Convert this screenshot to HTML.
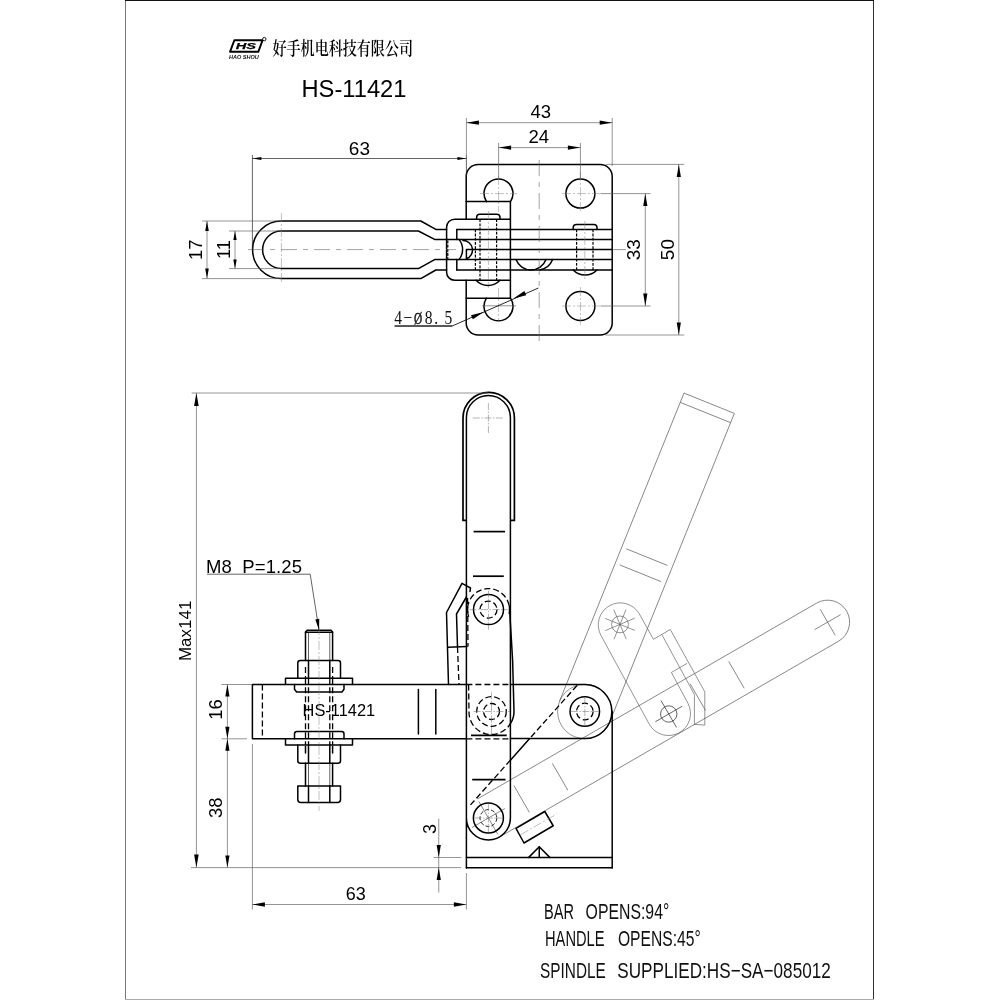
<!DOCTYPE html>
<html lang="zh"><head><meta charset="utf-8"><title>HS-11421</title>
<style>
html,body{margin:0;padding:0;background:#fff}
svg{display:block;will-change:transform}
.fr{fill:none;stroke:#222;stroke-width:1.1}
.k{fill:none;stroke:#000;stroke-width:1.5;stroke-linecap:round;stroke-linejoin:round}
.k2{fill:none;stroke:#000;stroke-width:1.7}
.kg{fill:none;stroke:#000;stroke-width:1.7}
.d{fill:none;stroke:#000;stroke-width:1.3;stroke-dasharray:6 3}
.d2{fill:none;stroke:#000;stroke-width:1.2;stroke-dasharray:2.8 1.4}
.t{fill:none;stroke:#5a5a5a;stroke-width:0.65}
.t2{fill:none;stroke:#222;stroke-width:0.7}
.d3{fill:none;stroke:#111;stroke-width:0.9;stroke-dasharray:4 2}
.k1{fill:none;stroke:#111;stroke-width:0.9}
.c{fill:none;stroke:#808080;stroke-width:0.5;stroke-dasharray:9 2 2 2}
.tc{fill:none;stroke:#777;stroke-width:0.55;stroke-dasharray:7 1.5 1.5 1.5}
.cl{fill:none;stroke:#666;stroke-width:0.6;stroke-dasharray:16 6 5 6}
.a{fill:#000;stroke:none}
.tx{font-family:"Liberation Sans",sans-serif;fill:#000}
.sx{font-family:"Liberation Serif",serif;fill:#111}
.sxb{font-family:"Liberation Serif",serif;fill:#111;stroke:#111;stroke-width:0.45}
.nt{font-family:"Liberation Sans",sans-serif;fill:#111}
</style></head>
<body>
<svg width="1000" height="1000" viewBox="0 0 1000 1000">
<rect x="0" y="0" width="1000" height="1000" fill="#fff"/>
<rect x="125" y="0" width="1" height="1000" fill="#777"/>
<rect x="873" y="0" width="1" height="1000" fill="#333"/>
<rect x="125" y="999" width="749" height="1" fill="#aaa"/>
<rect x="125" y="0" width="749" height="1" fill="#111"/>
<path d="M234.4,40.2 L262.6,40.2 L258.3,51.8 L230,51.8 Z" fill="none" stroke="#000" stroke-width="1.9" stroke-linejoin="round"/>
<circle cx="264.3" cy="39.1" r="1.7" fill="#fff" stroke="#000" stroke-width="0.9"/>
<text x="235.8" y="49" font-family="'Liberation Sans',sans-serif" font-weight="bold" font-style="italic" font-size="9.6" stroke="#000" stroke-width="0.25" textLength="20.2" lengthAdjust="spacingAndGlyphs" fill="#000">HS</text>
<text x="229" y="59.2" font-family="'Liberation Sans',sans-serif" font-style="italic" font-weight="bold" font-size="4.7" textLength="29.8" lengthAdjust="spacingAndGlyphs" fill="#111">HAO SHOU</text>
<text x="272.5" y="54.9" font-family="'Liberation Serif','Noto Serif CJK SC',serif" font-size="18.6" font-weight="600" textLength="140.5" lengthAdjust="spacingAndGlyphs" fill="#000">好手机电科技有限公司</text>
<text class="tx" x="301.5" y="96.8" font-size="23.7" text-anchor="start">HS-11421</text>
<path class="k" d="M466.2,219.2 V176.4 A12,12 0 0 1 478.2,164.4 H600.2 A12,12 0 0 1 612.2,176.4 V323 A12,12 0 0 1 600.2,335 H478.2 A12,12 0 0 1 466.2,323 V280.2"/>
<circle class="k" cx="580.4" cy="193.6" r="14.5"/>
<circle class="k" cx="580.4" cy="306" r="14.5"/>
<path class="k" d="M486.5,201.6 A14.5,14.5 0 1 1 510.5,201.6"/>
<path class="k" d="M486.5,298.2 A14.5,14.5 0 1 0 510.5,298.2"/>
<path class="k" d="M466.2,201.6 H510.4 V298.2 H466.2"/>
<line class="k" x1="456.8" y1="229.4" x2="612.2" y2="229.4"/>
<line class="k" x1="456.8" y1="270" x2="612.2" y2="270"/>
<line class="k2" x1="466.4" y1="249.5" x2="612.2" y2="249.5"/>
<line class="k" x1="456.8" y1="229.4" x2="456.8" y2="239.4"/>
<line class="k" x1="456.8" y1="259.6" x2="456.8" y2="270"/>
<path class="k" d="M446.6,229.4 H435.8 L420.8,221 H281.4 A28.8,28.8 0 0 0 281.4,278.6 H420.8 L435.8,270 H446.6"/>
<path class="k" d="M612.2,239.4 H434.6 L418.4,231 H281.4 A18.8,18.8 0 0 0 281.4,268.6 H418.4 L434.6,259.6 H612.2"/>
<path class="k" d="M510.4,219.2 H454.6 A8,8 0 0 0 446.6,227.2 V272.2 A8,8 0 0 0 454.6,280.2 H510.4"/>
<line class="d2" x1="447.8" y1="240.5" x2="447.8" y2="259"/>
<path class="k" d="M459,239.4 A16,16 0 0 1 459,259.6"/>
<path class="k" d="M463,240.6 A9.4,9.4 0 0 1 466.4,258.8 V249.5"/>
<path class="k" d="M476.6,219.2 V217.4 A3.2,3.2 0 0 1 479.8,214.2 H496.8 A3.2,3.2 0 0 1 500,217.4 V219.2"/>
<path class="k" d="M476,280.2 A16.4,16.4 0 0 0 500,280.2"/>
<line class="d2" x1="480" y1="219.2" x2="480" y2="280.2"/>
<line class="d2" x1="496.6" y1="219.2" x2="496.6" y2="280.2"/>
<line class="d2" x1="475.4" y1="229.4" x2="475.4" y2="270"/>
<line class="c" x1="488.4" y1="211" x2="488.4" y2="288"/>
<path class="k" d="M573.2,229.4 V227.6 A3.2,3.2 0 0 1 576.4,224.4 H593.8 A3.2,3.2 0 0 1 597,227.6 V229.4"/>
<path class="k" d="M573.2,270 A16.6,16.6 0 0 0 597,270"/>
<line class="d2" x1="576.6" y1="229.4" x2="576.6" y2="270"/>
<line class="d2" x1="593" y1="229.4" x2="593" y2="270"/>
<line class="c" x1="584.8" y1="221" x2="584.8" y2="279"/>
<path class="k" d="M516,259.6 A16,16 0 0 0 546,259.6"/>
<path class="k" d="M539.4,270 A16.5,16.5 0 0 0 552.6,259.6"/>
<line class="cl" x1="248" y1="249.6" x2="456" y2="249.6"/>
<line class="t" x1="612.2" y1="249.6" x2="626" y2="249.6"/>
<line class="c" x1="281.4" y1="213" x2="281.4" y2="283"/>
<line class="cl" x1="539.2" y1="160" x2="539.2" y2="341"/>
<line class="c" x1="498.6" y1="176" x2="498.6" y2="212"/>
<line class="c" x1="480" y1="193.6" x2="517" y2="193.6"/>
<line class="c" x1="498.6" y1="288" x2="498.6" y2="322"/>
<line class="t" x1="482" y1="305.8" x2="516" y2="305.8"/>
<line class="c" x1="580.4" y1="172" x2="580.4" y2="213"/>
<line class="c" x1="562" y1="193.6" x2="601" y2="193.6"/>
<line class="c" x1="580.4" y1="287" x2="580.4" y2="325"/>
<line class="c" x1="562" y1="306" x2="601" y2="306"/>
<line class="t2" x1="252.4" y1="155" x2="252.4" y2="250"/>
<line class="t" x1="466.4" y1="118" x2="466.4" y2="155"/>
<line class="t2" x1="466.4" y1="155" x2="466.4" y2="176"/>
<line class="t2" x1="252.4" y1="158.5" x2="466.4" y2="158.5"/>
<polygon class="a" points="252.4,158.5 261.4,157 261.4,160"/>
<polygon class="a" points="466.4,158.5 457.4,160 457.4,157"/>
<text class="tx" x="359.4" y="155.2" font-size="19" text-anchor="middle">63</text>
<line class="t" x1="612.2" y1="118" x2="612.2" y2="166"/>
<line class="t" x1="466.4" y1="122.7" x2="612.2" y2="122.7"/>
<polygon class="a" points="466.4,122.7 478.9,120.6 478.9,124.8"/>
<polygon class="a" points="612.2,122.7 599.7,124.8 599.7,120.6"/>
<text class="tx" x="540.75" y="118.1" font-size="18.5" text-anchor="middle">43</text>
<line class="t" x1="498.6" y1="143" x2="498.6" y2="178"/>
<line class="t" x1="580.4" y1="143" x2="580.4" y2="178"/>
<line class="t" x1="498.6" y1="147.6" x2="580.4" y2="147.6"/>
<polygon class="a" points="498.6,147.6 511.1,145.5 511.1,149.7"/>
<polygon class="a" points="580.4,147.6 567.9,149.7 567.9,145.5"/>
<text class="tx" x="538.8" y="143" font-size="18.5" text-anchor="middle">24</text>
<line class="t" x1="202" y1="221" x2="281" y2="221"/>
<line class="t" x1="202" y1="278.6" x2="281" y2="278.6"/>
<line class="t" x1="207" y1="221" x2="207" y2="278.6"/>
<polygon class="a" points="207,221 208.8,231 205.2,231"/>
<polygon class="a" points="207,278.6 205.2,268.6 208.8,268.6"/>
<text class="tx" x="201.8" y="249.8" font-size="18.3" text-anchor="middle" transform="rotate(-90 201.8 249.8)">17</text>
<line class="t" x1="229" y1="231" x2="281" y2="231"/>
<line class="t" x1="229" y1="268.6" x2="281" y2="268.6"/>
<line class="t" x1="235" y1="231" x2="235" y2="268.6"/>
<polygon class="a" points="235,231 236.7,240 233.3,240"/>
<polygon class="a" points="235,268.6 233.3,259.6 236.7,259.6"/>
<text class="tx" x="229.7" y="249.6" font-size="18.3" text-anchor="middle" transform="rotate(-90 229.7 249.6)">11</text>
<line class="t" x1="601" y1="193.6" x2="650.5" y2="193.6"/>
<line class="t" x1="601" y1="306" x2="650.5" y2="306"/>
<line class="t" x1="645.3" y1="193.6" x2="645.3" y2="306"/>
<polygon class="a" points="645.3,193.6 647.4,206.1 643.2,206.1"/>
<polygon class="a" points="645.3,306 643.2,293.5 647.4,293.5"/>
<text class="tx" x="640.4" y="249.8" font-size="19" text-anchor="middle" transform="rotate(-90 640.4 249.8)">33</text>
<line class="t" x1="605.5" y1="164.4" x2="684.3" y2="164.4"/>
<line class="t" x1="605.5" y1="335" x2="684.3" y2="335"/>
<line class="t" x1="678.8" y1="164.4" x2="678.8" y2="335"/>
<polygon class="a" points="678.8,164.4 680.9,176.9 676.7,176.9"/>
<polygon class="a" points="678.8,335 676.7,322.5 680.9,322.5"/>
<text class="tx" x="674.2" y="249.6" font-size="19" text-anchor="middle" transform="rotate(-90 674.2 249.6)">50</text>
<text class="sx" transform="translate(394.3 324) scale(0.82 1)" font-size="19">4</text>
<text class="sx" transform="translate(403.6 324) scale(0.82 1)" font-size="19">−</text>
<text class="sxb" transform="translate(413.9 323.6) scale(0.68 1)" font-size="16.6">Ø</text>
<text class="sx" transform="translate(424.8 324) scale(0.82 1)" font-size="19">8</text>
<text class="sx" transform="translate(434.2 324) scale(0.82 1)" font-size="19">.</text>
<text class="sx" transform="translate(444.6 324) scale(0.82 1)" font-size="19">5</text>
<path class="k1" d="M394.6,326 L452.2,326 L538.4,288"/>
<line class="k1" x1="394.6" y1="326" x2="452.2" y2="326"/>
<polygon class="a" points="483.8,312 472.83,319.35 470.98,315.14"/>
<polygon class="a" points="513.4,298.4 524.37,291.05 526.22,295.26"/>
<g transform="rotate(112 584.8 711.5)">
<path class="t" d="M584.8,684.5 H252.4 V738.8 H584.8"/>
<line class="t" x1="262.4" y1="684.5" x2="262.4" y2="738.8"/>
<line class="t" x1="418.4" y1="689.5" x2="418.4" y2="734"/>
<line class="t" x1="435.8" y1="689.5" x2="435.8" y2="734"/>
</g>
<circle class="t" cx="584.8" cy="711.5" r="27.2"/>
<g transform="rotate(60 488.4 818.0)">
<path class="t" d="M466.4,818.0 V426.3 A22,22 0 0 1 510.4,426.3 V818.0"/>
<line class="t" x1="473" y1="779.7" x2="504" y2="779.7"/>
<line class="t" x1="473" y1="735.3" x2="504" y2="735.3"/>
<line class="t" x1="473" y1="576.2" x2="504" y2="576.2"/>
<line class="t" x1="473" y1="531.6" x2="504" y2="531.6"/>
<line class="t" x1="473.4" y1="426.3" x2="503.4" y2="426.3"/>
<line class="t" x1="488.4" y1="411.3" x2="488.4" y2="441.3"/>
<line class="t" x1="469.4" y1="818" x2="507.4" y2="818"/>
<line class="t" x1="488.4" y1="799" x2="488.4" y2="837"/>
</g>
<path class="t" d="M639.32,613.89 A22,22 0 0 0 600.68,634.91 L649.43,724.51 A22,22 0 0 0 688.07,703.49 L671.4,672.4"/>
<path class="t" d="M639.32,613.89 L653.4,639.3 L670.3,629.5 L704.8,691.9 V725.1 L694.4,724.4 V694.5 L661.9,634.7"/>
<line class="t" x1="671.4" y1="672.4" x2="687.2" y2="663.3"/>
<circle class="t" cx="620" cy="624.4" r="8.4"/>
<line class="t" x1="605.17" y1="618.41" x2="634.83" y2="630.39"/>
<line class="t" x1="613.75" y1="609.67" x2="626.25" y2="639.13"/>
<line class="t" x1="625.99" y1="609.57" x2="614.01" y2="639.23"/>
<line class="t" x1="634.73" y1="618.15" x2="605.27" y2="630.65"/>
<circle class="t2" cx="668.75" cy="714" r="8.2"/>
<line class="t2" x1="655.33" y1="721.75" x2="682.17" y2="706.25"/>
<line class="t2" x1="661" y1="700.58" x2="676.5" y2="727.42"/>
<path class="k" d="M466.4,868 V417.6 A22,22 0 0 1 510.4,417.6 V818.0 A22,22 0 0 1 466.4,818.0"/>
<path class="kg" d="M466.4,520.4 H463 V418 A25.7,25.7 0 0 1 514.4,418 V520.4 H510.4"/>
<line class="tc" x1="472.9" y1="418" x2="503.9" y2="418"/>
<line class="tc" x1="488.4" y1="403" x2="488.4" y2="433"/>
<line class="k2" x1="473.6" y1="531.6" x2="505" y2="531.6"/>
<line class="k2" x1="473" y1="576.2" x2="503.8" y2="576.2"/>
<line class="k2" x1="471" y1="735.4" x2="506.7" y2="735.4"/>
<line class="k2" x1="472.2" y1="779.7" x2="505.5" y2="779.7"/>
<circle class="k" cx="488.5" cy="609.6" r="15"/>
<circle class="d" cx="488.5" cy="609.6" r="8.5"/>
<line class="tc" x1="469.5" y1="609.6" x2="507.5" y2="609.6"/>
<line class="tc" x1="488.5" y1="590.6" x2="488.5" y2="629.6"/>
<path class="d" d="M468.77,616.78 A21,21 0 1 1 509.04,613.97"/>
<path class="d" d="M467.6,598 L468,646.5"/>
<path class="d" d="M468.6,684.5 L469,711.5 A22.3,22.3 0 0 0 510.4,723.7"/>
<path class="k" d="M509.4,606 L512.6,660 L514,711.5 A22.5,22.5 0 0 1 510.4,723.7"/>
<circle class="d" cx="491.5" cy="711.5" r="14.8"/>
<circle class="d" cx="491.5" cy="711.5" r="8"/>
<line class="tc" x1="473.5" y1="711.5" x2="510" y2="711.5"/>
<line class="tc" x1="491.5" y1="692.5" x2="491.5" y2="734"/>
<path class="k" d="M448.5,684.5 L446.5,612.5 L462,583.3 L470.5,588 L470,591.5"/>
<path class="k" d="M457.5,647 L456.5,614 L466.4,597"/>
<line class="k" x1="448" y1="647.2" x2="467" y2="646.5"/>
<line class="d" x1="457.5" y1="647" x2="459" y2="684.5"/>
<path class="k" d="M466.4,684.5 H252.4 V738.8 H466.4"/>
<path class="k" d="M510.4,684.5 H584.8 A27,27 0 0 1 584.8,738.6 H510.4"/>
<line class="d" x1="466.4" y1="684.5" x2="510.4" y2="684.5"/>
<line class="d" x1="466.4" y1="738.8" x2="510.4" y2="738.8"/>
<line class="d" x1="262.4" y1="684.5" x2="262.4" y2="738.8"/>
<line class="k" x1="418.4" y1="689.5" x2="418.4" y2="734"/>
<line class="k" x1="435.8" y1="689.5" x2="435.8" y2="734"/>
<text class="tx" x="302.6" y="716.1" font-size="16.4" text-anchor="start">HS-11421</text>
<circle class="k" cx="584.8" cy="711.5" r="14.75"/>
<circle class="d" cx="584.8" cy="711.5" r="8.3"/>
<line class="tc" x1="570.8" y1="711.5" x2="598.8" y2="711.5"/>
<line class="tc" x1="584.8" y1="697.5" x2="584.8" y2="725.5"/>
<line class="d" x1="577" y1="685.5" x2="529.45" y2="738.8"/>
<line class="k" x1="529.45" y1="738.8" x2="510.4" y2="760.15"/>
<line class="d" x1="510.4" y1="760.15" x2="469.5" y2="806"/>
<line class="k" x1="612.2" y1="711.5" x2="612.2" y2="868"/>
<line class="k" x1="466.4" y1="857.4" x2="612.2" y2="857.4"/>
<line class="k" x1="466.4" y1="867.8" x2="612.2" y2="867.8"/>
<path class="k" d="M528.75,857.4 L539.25,846.75 L549.75,857.4"/>
<line class="k" x1="539.25" y1="846.75" x2="539.25" y2="857.4"/>
<path class="k" d="M516,828.3 L544.8,811.5 L553.2,825.75 L524,843 Z"/>
<line class="c" x1="520.5" y1="834.75" x2="556.5" y2="814.2"/>
<circle class="k" cx="488.4" cy="818" r="15"/>
<circle class="d3" cx="488.4" cy="818" r="8.4"/>
<line class="tc" x1="474.4" y1="818" x2="502.4" y2="818"/>
<line class="tc" x1="488.4" y1="804" x2="488.4" y2="832"/>
<path class="k" d="M305.5,660.5 V632 L307.1,630.2 H331.0 L332.6,632 V660.5"/>
<line class="k" x1="305.5" y1="632.3" x2="332.6" y2="632.3"/>
<line class="t2" x1="308.5" y1="632.4" x2="308.5" y2="660.5"/>
<line class="t2" x1="329.8" y1="632.4" x2="329.8" y2="660.5"/>
<path class="k" d="M297.8,678.2 V663 A2.5,2.5 0 0 1 300.3,660.5 H338.0 A2.5,2.5 0 0 1 340.5,663 V678.2"/>
<line class="k" x1="308.5" y1="660.5" x2="308.5" y2="678.2"/>
<line class="k" x1="329.8" y1="660.5" x2="329.8" y2="678.2"/>
<line class="d" x1="305.5" y1="667" x2="305.5" y2="678.2"/>
<line class="d" x1="332.6" y1="667" x2="332.6" y2="678.2"/>
<path class="k" d="M285.5,684.5 V678.2 H352.5 V684.5"/>
<path class="k" d="M294.5,684.5 V689.3 L296.6,692 H342 L344,689.3 V684.5"/>
<line class="d" x1="305.5" y1="678.2" x2="305.5" y2="745"/>
<line class="d" x1="308.5" y1="678.2" x2="308.5" y2="745"/>
<line class="d" x1="329.8" y1="678.2" x2="329.8" y2="745"/>
<line class="d" x1="332.6" y1="678.2" x2="332.6" y2="745"/>
<path class="k" d="M294.5,738.8 V734 A2.5,2.5 0 0 1 297,731.5 H341.5 A2.5,2.5 0 0 1 344,734 V738.8"/>
<path class="k" d="M285.5,738.8 V745 H352.5 V738.8"/>
<path class="k" d="M297.8,745 V760.7 A2.5,2.5 0 0 0 300.3,763.2 H338.0 A2.5,2.5 0 0 0 340.5,760.7 V745"/>
<line class="k" x1="308.5" y1="745" x2="308.5" y2="763.2"/>
<line class="k" x1="329.8" y1="745" x2="329.8" y2="763.2"/>
<line class="k" x1="305.5" y1="746.5" x2="305.5" y2="753"/>
<line class="k" x1="332.6" y1="746.5" x2="332.6" y2="753"/>
<line class="k" x1="305.5" y1="763.2" x2="305.5" y2="786"/>
<line class="k" x1="332.6" y1="763.2" x2="332.6" y2="786"/>
<line class="t2" x1="308.5" y1="763.2" x2="308.5" y2="786"/>
<line class="t2" x1="329.8" y1="763.2" x2="329.8" y2="786"/>
<path class="k" d="M297.8,786 H340.5 V799.5 A3,3 0 0 1 337.5,802.5 H300.8 A3,3 0 0 1 297.8,799.5 Z"/>
<line class="k" x1="308.5" y1="786" x2="308.5" y2="802.5"/>
<line class="k" x1="329.8" y1="786" x2="329.8" y2="802.5"/>
<line class="c" x1="319" y1="626" x2="319" y2="811"/>
<text class="tx" x="206" y="573.2" font-size="18.5" text-anchor="start" textLength="96" lengthAdjust="spacing">M8&#160;&#160;P=1.25</text>
<path class="t2" d="M207,574.2 L310.2,574.2 L319,630"/>
<polygon class="a" points="319,630 315.31,619.45 319.26,618.82"/>
<line class="t" x1="191.6" y1="393" x2="488" y2="393"/>
<line class="t" x1="191" y1="867.6" x2="461" y2="867.6"/>
<line class="t" x1="196.4" y1="393" x2="196.4" y2="867.6"/>
<polygon class="a" points="196.4,393 198.7,406 194.1,406"/>
<polygon class="a" points="196.4,867.6 194.1,854.6 198.7,854.6"/>
<text class="tx" x="191" y="630.8" font-size="17" text-anchor="middle" transform="rotate(-90 191 630.8)">Max141</text>
<line class="t" x1="221.4" y1="684.5" x2="252.4" y2="684.5"/>
<line class="t" x1="221.4" y1="738.8" x2="247" y2="738.8"/>
<line class="t" x1="227.4" y1="684.5" x2="227.4" y2="867.6"/>
<polygon class="a" points="227.4,684.5 229.5,696.5 225.3,696.5"/>
<polygon class="a" points="227.4,738.8 225.3,726.8 229.5,726.8"/>
<polygon class="a" points="227.4,738.8 229.5,750.8 225.3,750.8"/>
<polygon class="a" points="227.4,867.6 225.3,855.6 229.5,855.6"/>
<text class="tx" x="222" y="709.5" font-size="18.4" text-anchor="middle" transform="rotate(-90 222 709.5)">16</text>
<text class="tx" x="222" y="807.8" font-size="18.4" text-anchor="middle" transform="rotate(-90 222 807.8)">38</text>
<line class="t" x1="252.4" y1="744" x2="252.4" y2="909.5"/>
<line class="t" x1="466.4" y1="873" x2="466.4" y2="909.5"/>
<line class="t" x1="252.4" y1="904.5" x2="466.4" y2="904.5"/>
<polygon class="a" points="252.4,904.5 264.9,902.3 264.9,906.7"/>
<polygon class="a" points="466.4,904.5 453.9,906.7 453.9,902.3"/>
<text class="tx" x="355.7" y="899.75" font-size="18" text-anchor="middle">63</text>
<line class="t" x1="438.75" y1="818.75" x2="438.75" y2="892.5"/>
<line class="t" x1="433.75" y1="857.5" x2="461.25" y2="857.5"/>
<polygon class="a" points="438.75,857.5 436.65,845 440.85,845"/>
<polygon class="a" points="438.75,867.6 440.85,880.1 436.65,880.1"/>
<text class="tx" x="435.75" y="829" font-size="18" text-anchor="middle" transform="rotate(-90 435.75 829)">3</text>
<text class="nt" y="918.8" font-size="22.4"><tspan x="544" textLength="30" lengthAdjust="spacingAndGlyphs">BAR</tspan><tspan x="585.6" textLength="83.7" lengthAdjust="spacingAndGlyphs">OPENS:94°</tspan></text>
<text class="nt" y="946.4" font-size="22.4"><tspan x="545" textLength="59.6" lengthAdjust="spacingAndGlyphs">HANDLE</tspan><tspan x="617.9" textLength="82.9" lengthAdjust="spacingAndGlyphs">OPENS:45°</tspan></text>
<text class="nt" y="977.6" font-size="22.4"><tspan x="540" textLength="65.8" lengthAdjust="spacingAndGlyphs">SPINDLE</tspan><tspan x="617.2" textLength="213.6" lengthAdjust="spacingAndGlyphs">SUPPLIED:HS−SA−085012</tspan></text>
</svg>
</body></html>
